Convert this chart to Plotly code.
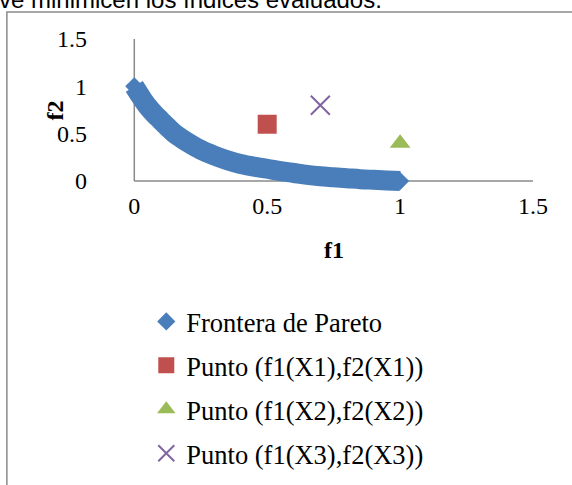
import plotly.graph_objects as go

# Pareto front (f1, f2)
front_f1 = [0.0, 0.025, 0.05, 0.075, 0.1, 0.125, 0.15, 0.175, 0.2, 0.25, 0.3, 0.35,
            0.4, 0.45, 0.5, 0.55, 0.6, 0.65, 0.7, 0.75, 0.8, 0.85, 0.9, 0.95, 1.0]
front_f2 = [1.0, 0.89, 0.79, 0.71, 0.64, 0.57, 0.505, 0.455, 0.41, 0.33, 0.27, 0.22,
            0.18, 0.152, 0.13, 0.105, 0.085, 0.065, 0.05, 0.04, 0.03, 0.02, 0.013, 0.006, 0.0]

# Evaluated points
p1 = (0.5, 0.6)
p2 = (1.0, 0.4)
p3 = (0.7, 0.8)

series_names = ["Frontera de Pareto", "Punto (f1(X1),f2(X1))",
                "Punto (f1(X2),f2(X2))", "Punto (f1(X3),f2(X3))"]

axis_ticks = [0, 0.5, 1, 1.5]
axis_ticktext = ["0", "0.5", "1", "1.5"]
x_title, y_title = "f1", "f2"
x_range = [0, 1.5]
y_range = [0, 1.5]
x_pad = 0.05  # room left of f1 = 0 so the thick band is not clipped
y_pad = 0.2   # room under f2 = 0 for the same reason

BLUE = "#4A7EBB"
RED = "#C0504D"
GREEN = "#9BBB59"
PURPLE = "#8064A2"
AXIS = "#8A8A8A"
SERIF = "Liberation Serif, Times New Roman, serif"

fig = go.Figure()

# thick smooth band underneath the diamond markers
fig.add_trace(go.Scatter(
    x=front_f1, y=front_f2, mode="lines",
    line=dict(color=BLUE, width=20, shape="spline", smoothing=1.0),
    showlegend=False, hoverinfo="skip", cliponaxis=False,
))
fig.add_trace(go.Scatter(
    x=front_f1, y=front_f2, mode="markers", name=series_names[0],
    marker=dict(symbol="diamond", size=14, color=BLUE),
    cliponaxis=False, legendgroup="a",
))
fig.add_trace(go.Scatter(
    x=[p1[0]], y=[p1[1]], mode="markers", name=series_names[1],
    marker=dict(symbol="square", size=19, color=RED),
    cliponaxis=False, legendgroup="b",
))
fig.add_trace(go.Scatter(
    x=[p2[0]], y=[p2[1]], mode="markers", name=series_names[2],
    marker=dict(symbol="triangle-up", size=18, color=GREEN),
    cliponaxis=False, legendgroup="c",
))
fig.add_trace(go.Scatter(
    x=[p3[0]], y=[p3[1]], mode="markers", name=series_names[3],
    marker=dict(symbol="x-thin", size=19, color=PURPLE,
                line=dict(color=PURPLE, width=2)),
    cliponaxis=False, legendgroup="d",
))

W, H = 572, 485
x_unit = 266.0                      # pixels per unit of f1
y_unit = 95.0                       # pixels per unit of f2
L = 134 - x_pad * x_unit            # plot left sits left of f1 = 0
R, T = 39, 38.5
B = H - (181 + y_pad * y_unit)      # plot bottom sits below f2 = 0
pw, ph = W - L - R, H - T - B

def px_x(px):
    return (px - L) / pw

def px_y(py):
    return (H - B - py) / ph

tickfont = dict(family=SERIF, size=24, color="black")
titlefont = dict(family=SERIF, size=24, color="black")
x_mid = (x_range[0] + x_range[1]) / 2
y_mid = (y_range[0] + y_range[1]) / 2

fig.update_layout(
    width=W, height=H,
    margin=dict(l=L, r=R, t=T, b=B, autoexpand=False),
    paper_bgcolor="white", plot_bgcolor="white",
    xaxis=dict(
        range=[x_range[0] - x_pad, x_range[1]], tickvals=axis_ticks,
        ticktext=axis_ticktext,
        showgrid=False, zeroline=False, showline=False,
        ticks="", tickfont=tickfont,
        anchor="free", position=y_pad / (y_range[1] - y_range[0] + y_pad),
        ticklabelstandoff=8, fixedrange=True,
    ),
    yaxis=dict(
        range=[y_range[0] - y_pad, y_range[1]], tickvals=axis_ticks,
        ticktext=axis_ticktext,
        showgrid=False, zeroline=False, showline=False,
        ticks="", tickfont=tickfont,
        ticklabelstandoff=int(round(20 + x_pad * x_unit)), fixedrange=True,
    ),
    legend=dict(
        x=px_x(146), y=px_y(298), xanchor="left", yanchor="top",
        font=dict(family=SERIF, size=26.5, color="black"),
        bgcolor="rgba(0,0,0,0)", tracegroupgap=6.5,
        itemclick=False, itemdoubleclick=False,
    ),
    showlegend=True,
    shapes=[
        # value axis (f2) from the origin to the top of the range
        dict(type="line", xref="x", yref="y", layer="below",
             x0=x_range[0], x1=x_range[0], y0=y_range[0], y1=y_range[1],
             line=dict(color=AXIS, width=1.5)),
        # value axis (f1) from the origin to the end of the range
        dict(type="line", xref="x", yref="y", layer="below",
             x0=x_range[0], x1=x_range[1], y0=y_range[0], y1=y_range[0],
             line=dict(color=AXIS, width=1.5)),
        # chart-area border
        dict(type="rect", xref="paper", yref="paper",
             x0=px_x(6.5), x1=px_x(590), y0=px_y(500), y1=px_y(11.5),
             line=dict(color=AXIS, width=1.5), fillcolor="rgba(0,0,0,0)",
             layer="below"),
    ],
    annotations=[
        # axis titles, centred on the 0..1.5 span of each axis
        dict(text=f"<b>{x_title}</b>", xref="x", yref="paper",
             x=x_mid, y=px_y(250), xanchor="center", yanchor="middle",
             showarrow=False, font=titlefont),
        dict(text=f"<b>{y_title}</b>", xref="paper", yref="y",
             x=px_x(55), y=y_mid, xanchor="center", yanchor="middle",
             textangle=-90, showarrow=False, font=titlefont),
        dict(text="ve minimicen los índices evaluados.",
             xref="paper", yref="paper", x=px_x(-3), y=px_y(-1),
             xanchor="left", yanchor="middle", showarrow=False,
             font=dict(family="Liberation Sans, Arial, sans-serif", size=24,
                       color="black")),
    ],
)

fig.write_html("out.html", config={"displayModeBar": False, "staticPlot": True})
